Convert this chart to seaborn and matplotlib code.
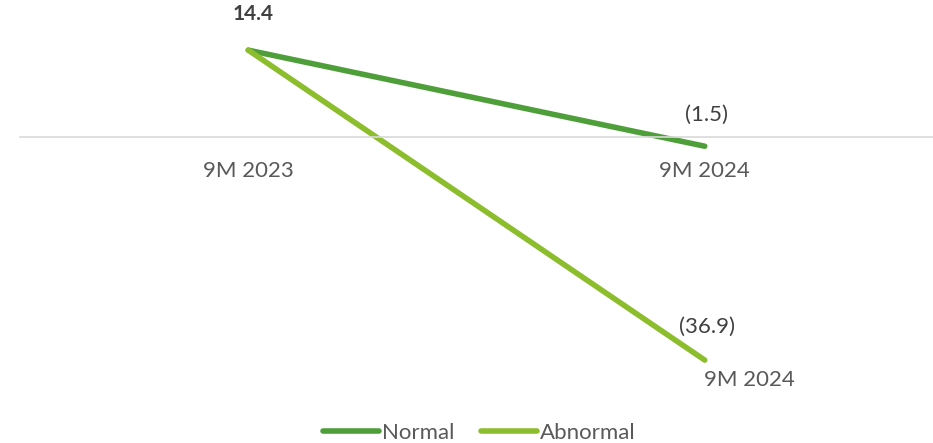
import matplotlib
matplotlib.use("Agg")
import matplotlib.pyplot as plt
import seaborn as sns
import pandas as pd

# data
periods = ["9M 2023", "9M 2024"]
normal = [14.4, -1.5]
abnormal = [14.4, -36.9]
series = ["Normal", "Abnormal"]
colors = {"Normal": "#4E9E3A", "Abnormal": "#8CBD2D"}
txt = "#404040"

df = pd.DataFrame({
    "period": periods * 2,
    "x": [0, 1] * 2,
    "value": normal + abnormal,
    "series": ["Normal"] * 2 + ["Abnormal"] * 2,
})

sns.set_style("white")
plt.rcParams["font.family"] = ["Lato", "DejaVu Sans"]

fig = plt.figure(figsize=(9.33, 4.43), dpi=100)
ax = fig.add_axes([20 / 933, 43 / 443, 913 / 933, 400 / 443])

sns.lineplot(data=df, x="x", y="value", hue="series", hue_order=series,
             palette=colors, linewidth=4, ax=ax, legend=False,
             solid_capstyle="round")

# zero line as the axis (set before ticks: set_position resets them)
for s in ["left", "right", "top"]:
    ax.spines[s].set_visible(False)
ax.spines["bottom"].set_position(("data", 0))
ax.spines["bottom"].set_color("#d9d9d9")
ax.spines["bottom"].set_linewidth(1.2)

ax.set_xlim(-0.5, 1.5)
ax.set_ylim(-43.5, 22.7)
ax.set_xticks([0, 1])
ax.set_xticklabels(periods, fontsize=16, color="#595959")
ax.set_yticks([])
ax.set_xlabel("")
ax.set_ylabel("")
ax.tick_params(axis="x", length=0, pad=17)

# data labels
ax.annotate("14.4", (0, normal[0]), xytext=(5, 36), textcoords="offset pixels",
            ha="center", va="center", fontsize=15, fontweight="bold", color=txt)
ax.annotate("(1.5)", (1, normal[1]), xytext=(2, 31), textcoords="offset pixels",
            ha="center", va="center", fontsize=16, color=txt)
ax.annotate("(36.9)", (1, abnormal[1]), xytext=(2, 33), textcoords="offset pixels",
            ha="center", va="center", fontsize=16, color=txt)
ax.annotate(periods[1], (1, abnormal[1]), xytext=(45, -20), textcoords="offset pixels",
            ha="center", va="center", fontsize=16, color="#595959")

handles = [plt.Line2D([], [], color=colors[s], linewidth=4, solid_capstyle="round")
           for s in series]
leg = fig.legend(handles, series, loc="lower center", bbox_to_anchor=(0.514, -0.045),
                 ncol=2, frameon=False, fontsize=16, handlelength=2.5,
                 handletextpad=0.15, columnspacing=1.2)
for t in leg.get_texts():
    t.set_color("#595959")

fig.savefig("out.png", dpi=100)
